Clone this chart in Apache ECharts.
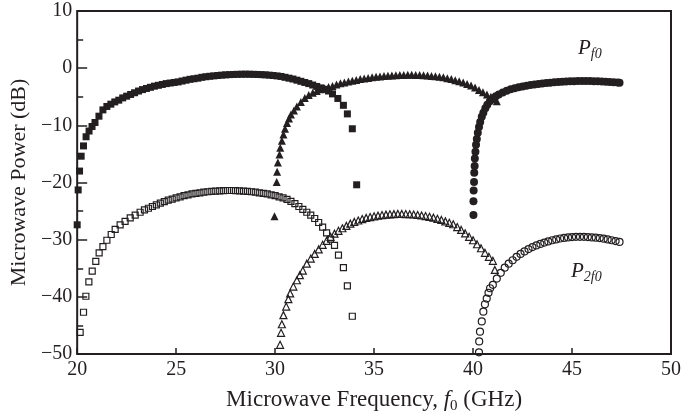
<!DOCTYPE html>
<html>
<head>
<meta charset="utf-8">
<script src="https://cdn.jsdelivr.net/npm/echarts@6/dist/echarts.min.js"></script>
<style>
html,body{margin:0;padding:0;background:#fff;}
#chart{width:685px;height:419px;}
</style>
</head>
<body>
<div id="chart"></div>
<script>
// Axis settings
const xTicks = [20, 25, 30, 35, 40, 45, 50];
const yTicks = [-50, -40, -30, -20, -10, 0, 10];

// P_f0, band 1 (filled squares)
const pf0Band1 = [
[20.00,-27.4],[20.05,-21.3],[20.12,-18.0],[20.20,-15.4],[20.32,-13.6],[20.45,-12.0],[20.60,-11.0],[20.75,-10.2],[20.90,-9.5],
[21.10,-8.4],[21.30,-7.3],[21.50,-6.7],[21.70,-6.3],[21.90,-5.9],[22.10,-5.6],[22.30,-5.2],[22.50,-4.9],[22.70,-4.6],[22.90,-4.3],
[23.10,-4.0],[23.30,-3.75],[23.50,-3.55],[23.70,-3.35],[23.90,-3.15],[24.10,-3.0],[24.30,-2.85],[24.50,-2.7],[24.70,-2.6],[24.90,-2.5],
[25.10,-2.4],[25.30,-2.25],[25.50,-2.1],[25.70,-1.95],[25.90,-1.85],[26.10,-1.75],[26.30,-1.6],[26.50,-1.5],[26.70,-1.42],[26.90,-1.35],
[27.10,-1.28],[27.30,-1.22],[27.50,-1.17],[27.70,-1.13],[27.90,-1.1],[28.10,-1.08],[28.30,-1.06],[28.50,-1.05],[28.70,-1.06],[28.90,-1.08],
[29.10,-1.1],[29.30,-1.13],[29.50,-1.17],[29.70,-1.22],[29.90,-1.28],[30.10,-1.36],[30.30,-1.45],[30.50,-1.6],[30.70,-1.75],[30.90,-1.9],
[31.10,-2.1],[31.30,-2.3],[31.50,-2.5],[31.70,-2.7],[31.90,-2.95],[32.10,-3.2],[32.30,-3.45],[32.50,-3.7],[32.70,-4.0],[32.90,-4.5],
[33.17,-5.3],[33.45,-6.5],[33.65,-8.0],[33.90,-10.6],[34.12,-20.4]
];

// P_f0, band 2 (filled triangles)
const pf0Band2 = [
[29.97,-25.9],[30.08,-19.9],[30.10,-18.1],[30.14,-16.5],[30.22,-15.1],[30.26,-13.9],[30.34,-12.7],[30.42,-11.6],[30.50,-10.6],
[30.60,-9.6],[30.70,-8.8],[30.80,-8.1],[30.95,-7.4],[31.10,-6.7],[31.30,-5.9],[31.50,-5.2],[31.70,-4.7],[31.90,-4.3],[32.10,-4.0],
[32.30,-3.7],[32.50,-3.5],[32.70,-3.3],[32.90,-3.1],[33.10,-2.85],[33.30,-2.65],[33.50,-2.5],[33.70,-2.35],[33.90,-2.2],[34.10,-2.05],
[34.30,-1.9],[34.50,-1.8],[34.70,-1.7],[34.90,-1.6],[35.10,-1.52],[35.30,-1.45],[35.50,-1.38],[35.70,-1.32],[35.90,-1.27],[36.10,-1.23],
[36.30,-1.2],[36.50,-1.18],[36.70,-1.17],[36.90,-1.17],[37.10,-1.18],[37.30,-1.2],[37.50,-1.23],[37.70,-1.28],[37.90,-1.35],[38.10,-1.42],
[38.30,-1.5],[38.50,-1.6],[38.70,-1.75],[38.90,-1.9],[39.10,-2.1],[39.30,-2.3],[39.50,-2.5],[39.70,-2.75],[39.90,-3.05],[40.10,-3.4],
[40.30,-3.8],[40.50,-4.2],[40.70,-4.6],[40.90,-5.0],[41.05,-5.4],[41.20,-5.8]
];

// P_f0, band 3 (filled circles)
const pf0Band3 = [
[40.02,-25.7],[40.02,-23.3],[40.03,-21.4],[40.05,-19.9],[40.06,-18.3],[40.08,-17.1],[40.09,-15.8],[40.12,-14.6],[40.15,-13.4],
[40.19,-12.4],[40.24,-11.3],[40.30,-10.3],[40.36,-9.4],[40.44,-8.5],[40.52,-7.8],[40.62,-7.0],[40.72,-6.4],[40.85,-5.8],[41.00,-5.3],
[41.15,-4.9],[41.30,-4.6],[41.50,-4.25],[41.70,-3.95],[41.90,-3.7],[42.10,-3.5],[42.30,-3.35],[42.50,-3.2],[42.70,-3.07],[42.90,-2.95],
[43.10,-2.85],[43.30,-2.76],[43.50,-2.68],[43.70,-2.6],[43.90,-2.53],[44.10,-2.47],[44.30,-2.42],[44.50,-2.37],[44.70,-2.33],[44.90,-2.3],
[45.10,-2.27],[45.30,-2.25],[45.50,-2.24],[45.70,-2.24],[45.90,-2.25],[46.10,-2.27],[46.30,-2.3],[46.50,-2.33],[46.70,-2.37],[46.90,-2.42],
[47.10,-2.47],[47.30,-2.52],[47.40,-2.55]
];

// P_2f0, band 1 (open squares)
const p2f0Band1 = [
[20.15,-46.2],[20.32,-42.7],[20.44,-39.9],[20.59,-37.4],[20.76,-35.5],[20.94,-33.8],[21.11,-32.3],[21.30,-31.2],[21.50,-30.1],
[21.72,-29.1],[21.92,-28.2],[22.17,-27.4],[22.42,-26.8],[22.68,-26.2],[22.93,-25.7],[23.18,-25.2],[23.40,-24.8],[23.60,-24.5],[23.80,-24.2],
[24.00,-23.9],[24.20,-23.6],[24.40,-23.35],[24.60,-23.1],[24.80,-22.9],[25.00,-22.7],[25.20,-22.5],[25.40,-22.3],[25.60,-22.15],[25.80,-22.0],
[26.00,-21.9],[26.20,-21.8],[26.40,-21.7],[26.60,-21.62],[26.80,-21.55],[27.00,-21.5],[27.20,-21.45],[27.40,-21.42],[27.60,-21.4],[27.80,-21.4],
[28.00,-21.42],[28.20,-21.45],[28.40,-21.5],[28.60,-21.55],[28.80,-21.62],[29.00,-21.7],[29.20,-21.8],[29.40,-21.9],[29.60,-22.0],[29.80,-22.15],
[30.00,-22.3],[30.20,-22.5],[30.40,-22.7],[30.60,-22.95],[30.80,-23.3],[31.00,-23.7],[31.20,-24.2],[31.40,-24.7],[31.60,-25.2],[31.80,-25.7],
[32.00,-26.3],[32.20,-27.0],[32.40,-27.8],[32.60,-28.8],[32.80,-29.9],[33.00,-31.0],[33.20,-32.7],[33.45,-34.9],[33.65,-38.1],[33.90,-43.4]
];

// P_2f0, band 2 (open triangles)
const p2f0Band2 = [
[30.25,-48.4],[30.30,-46.3],[30.34,-44.8],[30.42,-43.2],[30.56,-41.7],[30.67,-40.4],[30.76,-39.4],[30.92,-38.2],[31.10,-37.1],
[31.25,-36.2],[31.40,-35.4],[31.60,-34.2],[31.80,-33.3],[32.00,-32.5],[32.20,-31.7],[32.40,-30.9],[32.60,-30.2],[32.80,-29.5],[33.00,-28.95],
[33.20,-28.45],[33.40,-28.0],[33.60,-27.6],[33.80,-27.2],[34.00,-26.9],[34.20,-26.65],[34.40,-26.4],[34.60,-26.2],[34.80,-26.05],[35.00,-25.92],
[35.20,-25.8],[35.40,-25.7],[35.60,-25.62],[35.80,-25.57],[36.00,-25.53],[36.20,-25.5],[36.40,-25.5],[36.60,-25.52],[36.80,-25.55],[37.00,-25.6],
[37.20,-25.68],[37.40,-25.77],[37.60,-25.87],[37.80,-26.0],[38.00,-26.15],[38.20,-26.35],[38.40,-26.55],[38.60,-26.8],[38.80,-27.05],[39.00,-27.3],
[39.20,-27.8],[39.40,-28.3],[39.60,-28.9],[39.80,-29.5],[40.00,-30.1],[40.20,-30.8],[40.40,-31.5],[40.60,-32.3],[40.80,-33.0],[41.00,-33.7],
[41.10,-35.3]
];

// P_2f0, band 3 (open circles)
const p2f0Band3 = [
[40.30,-49.7],[40.31,-47.8],[40.35,-46.1],[40.44,-44.3],[40.52,-42.6],[40.60,-41.3],[40.69,-40.3],[40.78,-39.3],[40.86,-38.5],
[41.00,-37.9],[41.20,-36.8],[41.40,-35.8],[41.60,-34.9],[41.80,-34.2],[42.00,-33.6],[42.20,-33.0],[42.40,-32.5],[42.60,-32.05],[42.80,-31.65],
[43.00,-31.3],[43.20,-31.0],[43.40,-30.75],[43.60,-30.5],[43.80,-30.3],[44.00,-30.1],[44.20,-29.95],[44.40,-29.8],[44.60,-29.7],[44.80,-29.6],
[45.00,-29.55],[45.20,-29.5],[45.40,-29.5],[45.60,-29.5],[45.80,-29.55],[46.00,-29.6],[46.20,-29.65],[46.40,-29.72],[46.60,-29.82],[46.80,-29.95],
[47.00,-30.1],[47.20,-30.25],[47.40,-30.4]
];

const INK = '#231f20';
const FONT = '"Liberation Serif", "DejaVu Serif", serif';

function filled(data, symbol, size) {
  return { type: 'scatter', data, symbol, symbolSize: size, silent: true,
    itemStyle: { color: INK, opacity: 1 } };
}
function hollow(data, symbol, size) {
  return { type: 'scatter', data, symbol, symbolSize: size, silent: true,
    itemStyle: { color: 'rgba(0,0,0,0)', borderColor: INK, borderWidth: 1.2, opacity: 1 } };
}
const minus = v => String(v).replace('-', '\u2212');
const subRich = (size) => ({
  p: { fontFamily: FONT, fontStyle: 'italic', fontSize: size, fill: INK, verticalAlign: 'middle' },
  s: { fontFamily: FONT, fontStyle: 'italic', fontSize: 14, fill: INK, padding: [12, 0, 0, 0], verticalAlign: 'middle' }
});

const chart = echarts.init(document.getElementById('chart'), null, { renderer: 'canvas' });
chart.setOption({
  animation: false,
  backgroundColor: '#fff',
  grid: { left: 77, top: 11, right: 14, bottom: 63, show: true, borderColor: INK, borderWidth: 2, backgroundColor: 'transparent' },
  xAxis: {
    type: 'value', min: xTicks[0], max: xTicks[xTicks.length - 1], interval: 5,
    axisLine: { show: false, onZero: false },
    axisTick: { inside: true, length: 6, lineStyle: { color: INK, width: 1.5 } },
    splitLine: { show: false },
    axisLabel: { color: INK, fontFamily: FONT, fontSize: 20, margin: 6, formatter: minus },
    name: 'Microwave Frequency, {i|f}{s|0} (GHz)',
    nameLocation: 'middle', nameGap: 32,
    nameTextStyle: { color: INK, fontFamily: FONT, fontSize: 23,
      rich: {
        i: { fontFamily: FONT, fontStyle: 'italic', fontSize: 23, color: INK, verticalAlign: 'middle' },
        s: { fontFamily: FONT, fontSize: 15, color: INK, padding: [13, 0, 0, 0], verticalAlign: 'middle' }
      } }
  },
  yAxis: {
    type: 'value', min: yTicks[0], max: yTicks[yTicks.length - 1], interval: 10,
    axisLine: { show: false, onZero: false },
    axisTick: { inside: true, length: 10, lineStyle: { color: INK, width: 1.5 } },
    minorTick: { show: true, splitNumber: 2, length: 6, lineStyle: { color: INK, width: 1.5 } },
    splitLine: { show: false },
    minorSplitLine: { show: false },
    axisLabel: { color: INK, fontFamily: FONT, fontSize: 20, margin: 5, formatter: minus },
    name: 'Microwave Power (dB)',
    nameLocation: 'middle', nameGap: 44,
    nameTextStyle: { color: INK, fontFamily: FONT, fontSize: 22 }
  },
  graphic: [
    { type: 'text', left: 578, top: 38, silent: true,
      style: { text: '{p|P}{s|f0}', rich: subRich(21) } },
    { type: 'text', left: 571, top: 261, silent: true,
      style: { text: '{p|P}{s|2f0}', rich: subRich(21) } }
  ],
  series: [
    hollow(p2f0Band1, 'rect', 6),
    hollow(p2f0Band2, 'triangle', 7),
    hollow(p2f0Band3, 'circle', 7),
    filled(pf0Band1, 'rect', 7),
    filled(pf0Band2, 'triangle', 8),
    filled(pf0Band3, 'circle', 8)
  ]
});
</script>
</body>
</html>
